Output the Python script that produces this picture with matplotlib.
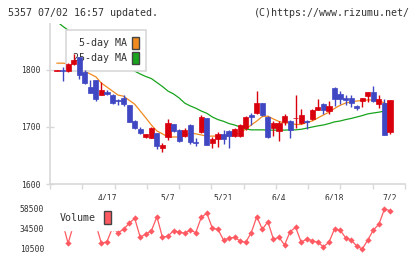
import matplotlib
matplotlib.use('Agg')
import matplotlib.pyplot as plt
from matplotlib.patches import Patch
import numpy as np

# date labels (trading-day index)
date_labels = ['4/17', '5/7', '5/21', '6/4', '6/18', '7/2']
date_idx = [9, 20, 30, 40, 50, 60]

opens = [1799, 1800, 1799, 1810, 1823, 1797, 1771, 1782, 1756, 1762,
         1756, 1748, 1751.5, 1738.6, 1710.5, 1696.5, 1683, 1680, 1690, 1664,
         1682, 1705, 1695, 1684, 1703.5, 1673, 1692, 1715, 1672.5, 1678.5,
         1688, 1693, 1684, 1684, 1698, 1721, 1724, 1741.5, 1718, 1698,
         1693, 1709, 1710.5, 1715.5, 1706.5, 1710.5, 1713.5, 1729, 1740, 1728.6,
         1769, 1758, 1751.5, 1751.5, 1737, 1745.6, 1754, 1762, 1740, 1741.5,
         1692]
highs = [1799.5, 1806, 1813, 1827.5, 1823, 1800, 1782, 1782, 1779.5, 1765,
         1758, 1750, 1756, 1739, 1712, 1700, 1688, 1700, 1690, 1672,
         1713.5, 1706, 1697, 1699, 1706, 1680, 1721, 1716, 1683, 1691.5,
         1695, 1695, 1698, 1705, 1719.5, 1725, 1764, 1742.6, 1719, 1710,
         1710, 1723, 1712, 1756, 1731, 1712, 1731.5, 1750, 1742, 1745.6,
         1771, 1763, 1756, 1756, 1739, 1751.5, 1762, 1772.5, 1756, 1749,
         1747]
lows = [1799, 1780, 1796, 1808, 1785, 1776, 1760, 1746, 1756, 1756,
        1741, 1738, 1736, 1709, 1697, 1688, 1680, 1680, 1661, 1657,
        1677, 1691, 1674, 1682, 1670, 1667, 1689, 1668, 1664, 1665,
        1670, 1664, 1682, 1682, 1694, 1703.5, 1722, 1719.5, 1680, 1684,
        1676, 1703.5, 1681, 1698, 1705, 1696, 1713, 1729, 1722, 1722.8,
        1737, 1741, 1739, 1735, 1730, 1735, 1744, 1743, 1733, 1686,
        1688]
closes = [1799.5, 1799, 1810, 1817.5, 1791, 1777, 1760, 1749, 1765, 1758,
          1741.5, 1746, 1740, 1709, 1699, 1689, 1687.5, 1699, 1667, 1668.5,
          1707.5, 1693, 1675.5, 1695, 1674, 1672, 1718, 1668, 1679, 1688,
          1679, 1684, 1696.5, 1703.5, 1718, 1717, 1742.6, 1721, 1683, 1707.6,
          1707.6, 1719, 1695, 1716.5, 1721, 1708, 1730, 1734.6, 1729, 1737,
          1750, 1750, 1747, 1741.5, 1733, 1751.5, 1762, 1745.6, 1749, 1686,
          1747]
volume = [38000, 42000, 17340, 40000, 52000, 45000, 38000, 40000, 17340, 19260,
          36000, 30060, 34140, 41340, 47340, 24540, 28500, 32100, 49260, 24540,
          26100, 32460, 30900, 29340, 33300, 30060, 48540, 53340, 35340, 34140,
          21300, 23340, 24540, 20100, 18540, 30060, 49260, 34140, 43260, 22140,
          24540, 15300, 31260, 36540, 18540, 22500, 20460, 18540, 13260, 18540,
          34500, 33300, 24060, 21300, 14100, 10500, 21300, 33300, 40140, 58500,
          56460]
ma5 = [1812, 1812, 1811, 1808, 1803, 1798, 1793, 1788, 1777, 1770,
       1763, 1756, 1754, 1747, 1740, 1728, 1716, 1703.5, 1693, 1688,
       1682.5, 1682.5, 1682.5, 1684, 1689.5, 1688, 1686, 1684, 1684, 1684,
       1684, 1684, 1686, 1689.5, 1696.5, 1703.5, 1710.5, 1718.5, 1719, 1714,
       1709.7, 1707, 1707, 1704.4, 1704.4, 1708, 1710.5, 1716, 1721, 1726,
       1732.5, 1738, 1742, 1744, 1745.6, 1746.5, 1747.4, 1747.4, 1746.5, 1742,
       1739]
ma25 = [1885, 1877, 1870, 1864, 1858, 1852, 1846, 1840, 1834, 1828,
        1822, 1816, 1810, 1804, 1798, 1793, 1788.6, 1785, 1778, 1771,
        1763, 1758, 1751, 1742, 1737, 1733, 1728, 1724, 1717.5, 1713,
        1710, 1706, 1703.5, 1700, 1696.5, 1695, 1695, 1695, 1694.5, 1694.5,
        1694.5, 1694.5, 1695, 1695, 1696, 1698, 1700, 1702, 1703.5, 1706,
        1709, 1710.5, 1713, 1715, 1717.5, 1720, 1723, 1724.6, 1726, 1728,
        1729]

RED = '#D9000E'
BLUE = '#3F47C2'
ORANGE = '#F08A1E'
GREEN = '#18A41C'
VOLC = '#FF5A62'
AXC = '#D8D8D8'
TXT = '#333333'
MONO = 'DejaVu Sans Mono'

W, H = 420, 259
fig = plt.figure(figsize=(W / 100, H / 100), dpi=100)

def frac(x0, y0, x1, y1):
    # pixel box (top-left origin) -> figure fraction
    return [x0 / W, 1 - y1 / H, (x1 - x0) / W, (y1 - y0) / H]

x = np.arange(len(closes))
xlim = ((50 - 57) / 5.55, (405 - 57) / 5.55)

ax = fig.add_axes(frac(50, 24, 405, 184))
ax.set_xlim(*xlim)
ax.set_ylim(1600, 1600 + 160 * 100 / 57)

o = np.array(opens)
c = np.array(closes)
colors = [RED if cc >= oo else BLUE for oo, cc in zip(o, c)]
ax.vlines(x, lows, highs, colors=colors, linewidth=1, zorder=4)
ax.bar(x, np.abs(c - o), bottom=np.minimum(o, c), width=0.92, color=colors,
       edgecolor=colors, linewidth=0.5, zorder=5)

ax.plot(x, ma5, color=ORANGE, linewidth=0.9, zorder=2)
ax.plot(x, ma25, color=GREEN, linewidth=0.9, zorder=2)

leg = ax.legend(handles=[Patch(facecolor=ORANGE, edgecolor='#444444', linewidth=1),
                         Patch(facecolor=GREEN, edgecolor='#444444', linewidth=1)],
                labels=['5-day MA', '25-day MA'], loc='upper left',
                bbox_to_anchor=(0.0442, 0.9625), borderaxespad=0,
                markerfirst=False, handlelength=0.66, handleheight=1.45,
                handletextpad=0.57, borderpad=0.7, labelspacing=0.3,
                fancybox=False, framealpha=1, edgecolor=AXC,
                prop={'family': MONO, 'size': 7.2})
leg.get_frame().set_linewidth(1.2)
for t in leg.get_texts():
    t.set_color(TXT)
leg.set_zorder(3)

for s in ['top', 'right']:
    ax.spines[s].set_visible(False)
for s in ['left', 'bottom']:
    ax.spines[s].set_color(AXC)
    ax.spines[s].set_linewidth(1.2)
ax.set_yticks([1600, 1700, 1800])
ax.set_yticklabels(['1600', '1700', '1800'])
ax.tick_params(axis='y', direction='inout', length=5.8, width=1, color=AXC,
               pad=4, labelsize=5.8, labelcolor=TXT)
ax.set_xticks(np.linspace(xlim[0], xlim[1], 12))
ax.set_xticklabels([])
ax.tick_params(axis='x', direction='out', length=3.8, width=1, color=AXC)
for lab in ax.get_yticklabels():
    lab.set_family(MONO)

# date labels under the axis
for d, i in zip(date_labels, date_idx):
    ax.text(i, -13.7 / 160, d, transform=ax.get_xaxis_transform(), ha='center',
            va='center', fontsize=5.8, family=MONO, color=TXT)

# volume panel
axv = fig.add_axes(frac(50, 200, 405, 258))
axv.set_xlim(*xlim)
axv.set_ylim(10500 - 9 * 1200, 58500 + 9 * 1200)
axv.plot(x, volume, color=VOLC, linewidth=0.9, marker='D', markersize=3.2,
         markeredgewidth=0, zorder=2)
for s in axv.spines.values():
    s.set_visible(False)
axv.set_xticks([])
axv.set_yticks([58500, 34500, 10500])
axv.set_yticklabels(['58500', '34500', '10500'])
axv.tick_params(axis='y', length=0, pad=4.3, labelsize=5.8, labelcolor=TXT)
for lab in axv.get_yticklabels():
    lab.set_family(MONO)
vleg = axv.legend(handles=[Patch(facecolor=VOLC, edgecolor='#444444', linewidth=1)],
                  labels=['Volume'], loc='upper left',
                  bbox_to_anchor=(4 / 355, (258 - 205) / 58), borderaxespad=0,
                  markerfirst=False, handlelength=0.66, handleheight=1.6,
                  handletextpad=0.8, borderpad=0.6,
                  fancybox=False, framealpha=1, edgecolor='white',
                  prop={'family': MONO, 'size': 7.2})
for t in vleg.get_texts():
    t.set_color(TXT)
vleg.set_zorder(3)

fig.text(8 / W, 1 - 13 / H, '5357 07/02 16:57 updated.', fontsize=7.2,
         family=MONO, color=TXT, va='center', ha='left')
fig.text(410 / W, 1 - 13 / H, '(C)https://www.rizumu.net/', fontsize=7.2,
         family=MONO, color=TXT, va='center', ha='right')

fig.savefig('out.png', dpi=100)
